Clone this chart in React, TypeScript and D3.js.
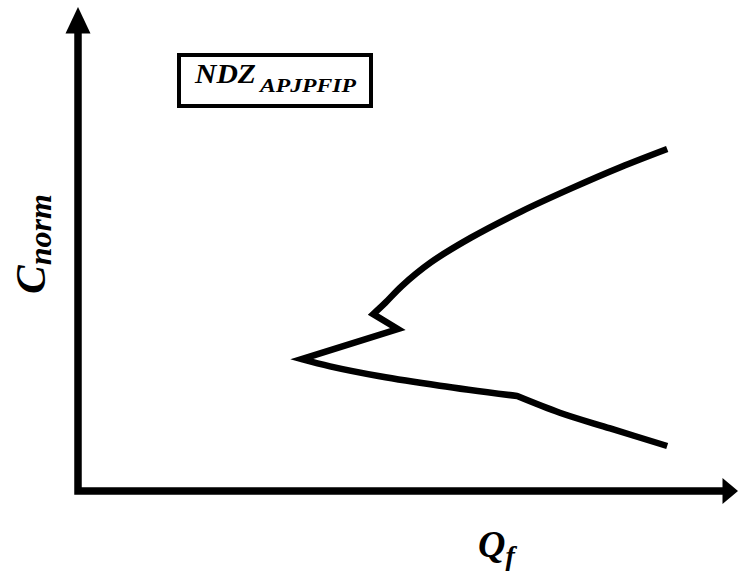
import React from "react";
import * as d3 from "d3";

// Qf (horizontal) and Cnorm (vertical) in relative units.
// The curve is drawn as three pieces: the upper arc, the zig-zag, and the lower branch.
const upperQf = [98.2, 90.5, 82.3, 74.0, 65.5, 58.8, 54.0, 51.2, 49.2];
const upperC = [76.0, 72.0, 67.3, 62.2, 56.3, 50.8, 45.6, 41.8, 39.3];
const zigQf = [49.2, 53.3, 37.3];
const zigC = [39.3, 36.0, 29.3];
const lowerQf = [37.3, 42.0, 50.3, 60.3, 73.2];
const lowerC = [29.3, 27.7, 25.5, 23.4, 21.1];
const tailQf = [73.2, 80.3, 88.7, 98.2];
const tailC = [21.1, 17.4, 13.9, 10.0];

const boxTitle = "NDZ";
const boxSub = "APJPFIP";
const xTitle = "Q";
const xSub = "f";
const yTitle = "C";
const ySub = "norm";

const W = 739;
const H = 576;
const FONT = "'Liberation Serif', 'Times New Roman', serif";

type Pt = [number, number];
const zipPts = (a: number[], b: number[]): Pt[] => a.map((v, i) => [v, b[i]]);

export default function App() {
  const x = d3.scaleLinear().domain([0, 100]).range([78, 678]);
  const y = d3.scaleLinear().domain([0, 100]).range([491, 41]);

  const gen = (curve: d3.CurveFactory) =>
    d3
      .line<Pt>()
      .x((d) => x(d[0]))
      .y((d) => y(d[1]))
      .curve(curve);

  const pieces = [
    gen(d3.curveCatmullRom.alpha(0.5))(zipPts(upperQf, upperC)) || "",
    gen(d3.curveLinear)(zipPts(zigQf, zigC)) || "",
    gen(d3.curveCatmullRom.alpha(0.5))(zipPts(lowerQf, lowerC)) || "",
    gen(d3.curveCatmullRom.alpha(0.5))(zipPts(tailQf, tailC)) || "",
  ];
  // join the pieces into one continuous path so the corners stay sharp
  const curveD = pieces.map((p, i) => (i === 0 ? p : p.replace(/^M[^A-Za-z]*/, ""))).join("");

  const x0 = x(0);
  const y0 = y(0);
  const axisW = 7.5;

  return (
    <svg
      width={W}
      height={H}
      style={{ position: "absolute", left: 0, top: 0, background: "#fff" }}
    >
      {/* axes with arrowheads */}
      <path
        d={`M${x0},33 L${x0},${y0} L723,${y0}`}
        fill="none"
        stroke="#000"
        strokeWidth={axisW}
        strokeLinejoin="miter"
      />
      <path d={`M${x0},7 L${x0 + 12.5},33.5 L${x0 - 12.5},33.5 Z`} fill="#000" />
      <path d={`M738,${y0} L722.5,${y0 - 13} L722.5,${y0 + 13} Z`} fill="#000" />

      {/* response curve */}
      <path
        d={curveD}
        fill="none"
        stroke="#000"
        strokeWidth={6.5}
        strokeLinejoin="miter"
        strokeMiterlimit={6}
        strokeLinecap="butt"
      />

      {/* legend box */}
      <rect x={179} y={55} width={192} height={51} fill="#fff" stroke="#000" strokeWidth={4} />
      <text
        x={195}
        y={83}
        fontFamily={FONT}
        fontWeight="bold"
        fontStyle="italic"
        fontSize={28}
        textLength={61}
        lengthAdjust="spacingAndGlyphs"
        fill="#000"
      >
        {boxTitle}
      </text>
      <text
        x={260}
        y={92}
        fontFamily={FONT}
        fontWeight="bold"
        fontStyle="italic"
        fontSize={19}
        textLength={96}
        lengthAdjust="spacingAndGlyphs"
        fill="#000"
      >
        {boxSub}
      </text>

      {/* axis titles */}
      <text x={478} y={557} fontFamily={FONT} fontWeight="bold" fontStyle="italic" fontSize={38} fill="#000">
        {xTitle}
        <tspan fontSize={28} dy={8}>{xSub}</tspan>
      </text>
      <text
        transform="translate(45,294) rotate(-90)"
        fontFamily={FONT}
        fontWeight="bold"
        fontStyle="italic"
        fontSize={43}
        fill="#000"
      >
        {yTitle}
        <tspan fontSize={32} dy={6}>{ySub}</tspan>
      </text>
    </svg>
  );
}
